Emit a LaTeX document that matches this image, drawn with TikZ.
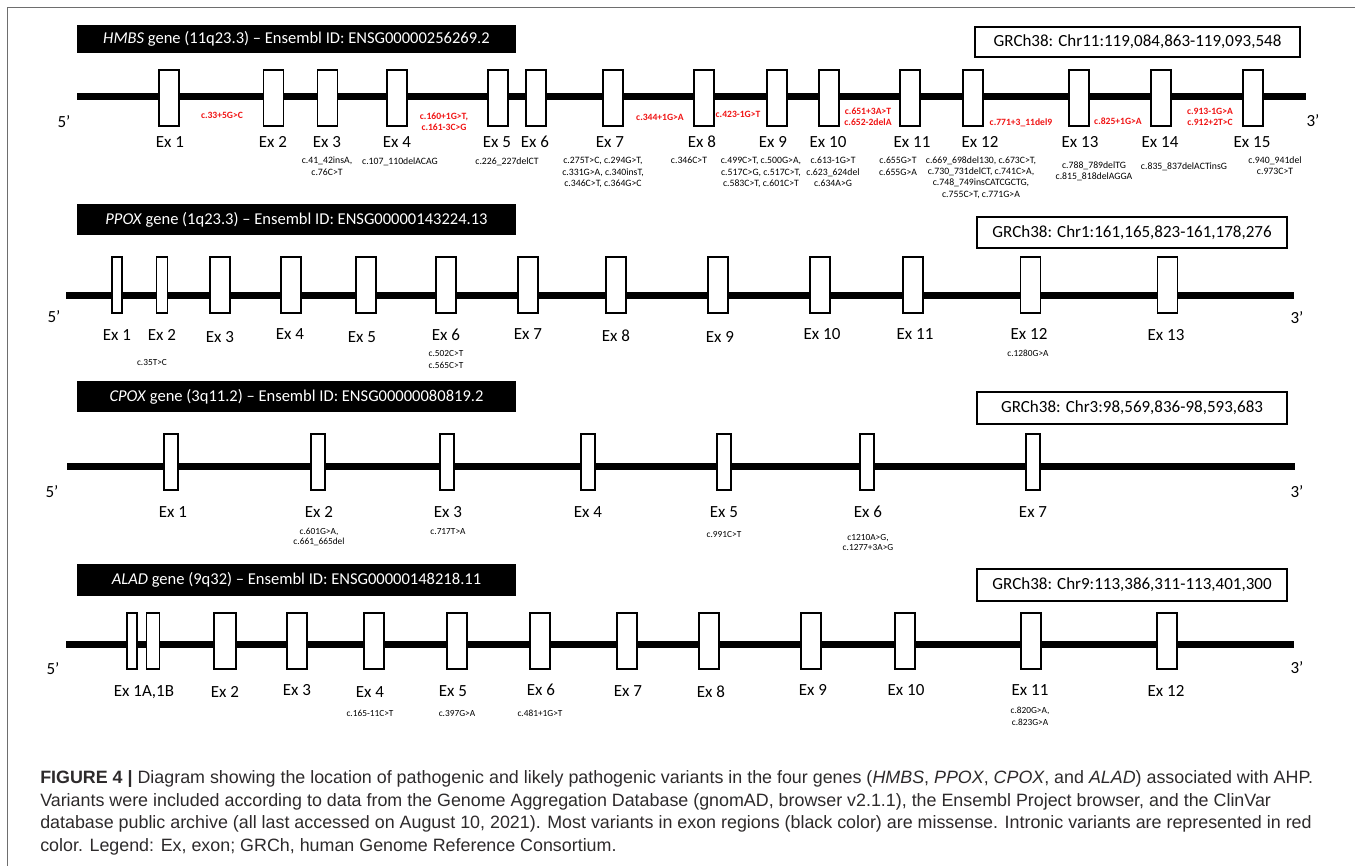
\documentclass[tikz,border=0pt]{standalone}
\usepackage{fontspec}
\setmainfont{Carlito}
\newfontfamily\capfont{Liberation Sans}
\newdimen\pxu \pxu=0.75pt
\definecolor{varred}{RGB}{240,20,20}
\definecolor{framegray}{RGB}{110,110,110}
\definecolor{captext}{RGB}{45,42,43}
\tikzset{
  gene/.style={line width=7\pxu},
  exon/.style={draw, fill=white, line width=1.2\pxu, minimum height=56\pxu, minimum width=20\pxu, inner sep=0pt},
  exlab/.style={font=\fontsize{12.75}{14}\selectfont, inner sep=0pt},
  primelab/.style={font=\fontsize{12.75}{14}\selectfont, inner sep=0pt},
  hdr/.style={fill=black, text=white, font=\fontsize{12.4}{14}\selectfont, inner sep=0pt, minimum width=439\pxu},
  grch/.style={draw, line width=1.2\pxu, fill=white, font=\fontsize{12.75}{14}\selectfont, inner sep=0pt},
  var/.style={font=\fontsize{7.3}{8.6}\selectfont, align=center, anchor=north, inner sep=0pt},
  varsm/.style={font=\fontsize{7}{9}\selectfont, align=center, anchor=north, inner sep=0pt},
  varc/.style={font=\fontsize{7}{7.5}\selectfont, align=center, anchor=north, inner sep=0pt},
  redvar/.style={font=\fontsize{7.2}{8.2}\selectfont\bfseries, text=varred, align=center, anchor=north, inner sep=0pt},
  capline/.style={font=\fontsize{13.4}{16}\selectfont\capfont, text=captext, anchor=west, inner sep=0pt},
  framestyle/.style={draw=framegray, line width=1\pxu},
}
\begin{document}
\begin{tikzpicture}[x=0.75pt, y=-0.75pt]
\useasboundingbox (0,0) rectangle (1355,866);
% frame
\coordinate (frBL) at (7,866);
\coordinate (frTL) at (7,8);
\coordinate (frTR) at (1355,8);
\draw[framestyle] (frBL) -- (frTL) -- (frTR);

% ================= HMBS =================
\node[hdr, minimum height=28\pxu] (hmbsHdr) at (296.5,39) {\textit{HMBS} gene (11q23.3) – Ensembl ID: ENSG00000256269.2};
\node[grch, minimum width=325\pxu, minimum height=30\pxu] (hmbsGr) at (1137.5,42) {GRCh38: Chr11:119,084,863-119,093,548};
\coordinate (hmbsL) at (77,96.5);
\coordinate (hmbsR) at (1306,96.5);
\draw[gene] (hmbsL) -- (hmbsR);
\foreach \x [count=\i] in {169,273.5,327.5,397,498,536,613,704,777,829,910,973,1079,1161,1253}
  \node[exon] (hmbs-ex\i) at (\x,98) {};
\foreach \x [count=\i] in {170,273,327,397,497,535,610,702,773,828,912,980,1080,1160,1252}
  \node[exlab] (hmbs-lab\i) at (\x,142) {Ex \i};
\node[primelab] (hmbs5) at (64,122) {5’};
\node[primelab] (hmbs3) at (1313,121) {3’};
% intronic (red)
\node[redvar] (hr1) at (222,112) {c.33+5G>C};
\node[redvar] (hr2) at (444,113) {c.160+1G>T,\\c.161-3C>G};
\node[redvar] (hr3) at (660,114) {c.344+1G>A};
\node[redvar] (hr4) at (738,111) {c.423-1G>T};
\node[redvar] (hr5) at (868,108) {c.651+3A>T\\c.652-2delA};
\node[redvar] (hr6) at (1021,118) {c.771+3\_11del9};
\node[redvar] (hr7) at (1118,118) {c.825+1G>A};
\node[redvar] (hr8) at (1210,108) {c.913-1G>A\\c.912+2T>C};
% exonic (black)
\node[var] (hv3) at (327,157) {c.41\_42insA,\\c.76C>T};
\node[var] (hv4) at (400,157) {c.107\_110delACAG};
\node[var] (hv5) at (507,157) {c.226\_227delCT};
\node[var] (hv7) at (603,157) {c.275T>C, c.294G>T,\\c.331G>A, c.340insT,\\c.346C>T, c.364G>C};
\node[var] (hv8) at (689,157) {c.346C>T};
\node[var] (hv9) at (761,157) {c.499C>T, c.500G>A,\\c.517C>G, c.517C>T,\\c.583C>T, c.601C>T};
\node[var] (hv10) at (833,157) {c.613-1G>T\\c.623\_624del\\c.634A>G};
\node[var] (hv11) at (898,157) {c.655G>T\\c.655G>A};
\node[var] (hv12) at (981,156) {c.669\_698del130, c.673C>T,\\c.730\_731delCT, c.741C>A,\\c.748\_749insCATCGCTG,\\c.755C>T, c.771G>A};
\node[var] (hv13) at (1094,161) {c.788\_789delTG\\c.815\_818delAGGA};
\node[var] (hv14) at (1184,162) {c.835\_837delACTinsG};
\node[var] (hv15) at (1275,156) {c.940\_941del\\c.973C>T};

% ================= PPOX =================
\node[hdr, minimum height=31\pxu] (ppoxHdr) at (296.5,219.5) {\textit{PPOX} gene (1q23.3) – Ensembl ID: ENSG00000143224.13};
\node[grch, minimum width=310\pxu, minimum height=31\pxu] (ppoxGr) at (1132,232.5) {GRCh38: Chr1:161,165,823-161,178,276};
\coordinate (ppoxL) at (66,295);
\coordinate (ppoxR) at (1294,295);
\draw[gene] (ppoxL) -- (ppoxR);
\node[exon, minimum width=10\pxu] (ppox-ex1) at (117,285) {};
\node[exon, minimum width=11\pxu] (ppox-ex2) at (162,285) {};
\foreach \x [count=\i from 3] in {220,291,366,446,528,616,718,820,913,1030.5,1167.5}
  \node[exon] (ppox-ex\i) at (\x,285) {};
\foreach \x/\y [count=\i] in {117/335,162/335,220/337,290/334,362/337,446/335,528/334,616/336,720/337,822/334,915/334,1029/334,1166/335}
  \node[exlab] (ppox-lab\i) at (\x,\y) {Ex \i};
\node[primelab] (ppox5) at (54,317) {5’};
\node[primelab] (ppox3) at (1297,318) {3’};
\node[varsm] (pv2) at (152,359) {c.35T>C};
\node[varsm] (pv6) at (446,350) {c.502C>T\\c.565C>T};
\node[varsm] (pv12) at (1028,350) {c.1280G>A};

% ================= CPOX =================
\node[hdr, minimum height=31\pxu] (cpoxHdr) at (296.5,396.5) {\textit{CPOX} gene (3q11.2) – Ensembl ID: ENSG00000080819.2};
\node[grch, minimum width=310\pxu, minimum height=32\pxu] (cpoxGr) at (1132,408) {GRCh38: Chr3:98,569,836-98,593,683};
\coordinate (cpoxL) at (67,466);
\coordinate (cpoxR) at (1295,466);
\draw[gene] (cpoxL) -- (cpoxR);
\foreach \x [count=\i] in {171,318,447,588,724,867,1033}
  \node[exon, minimum width=14\pxu] (cpox-ex\i) at (\x,462) {};
\foreach \x [count=\i] in {173,319,448,588,724,868,1033}
  \node[exlab] (cpox-lab\i) at (\x,512) {Ex \i};
\node[primelab] (cpox5) at (52,492) {5’};
\node[primelab] (cpox3) at (1297,492) {3’};
\node[varc] (cv2) at (319,528) {c.601G>A,\\c.661\_665del};
\node[varc] (cv3) at (448,528) {c.717T>A};
\node[varc] (cv5) at (724,531) {c.991C>T};
\node[varc] (cv6) at (868,534) {c1210A>G,\\c.1277+3A>G};

% ================= ALAD =================
\node[hdr, minimum height=32\pxu] (aladHdr) at (296.5,580) {\textit{ALAD} gene (9q32) – Ensembl ID: ENSG00000148218.11};
\node[grch, minimum width=310\pxu, minimum height=32\pxu] (aladGr) at (1132,585) {GRCh38: Chr9:113,386,311-113,401,300};
\coordinate (aladL) at (66,644);
\coordinate (aladR) at (1294,644);
\draw[gene] (aladL) -- (aladR);
\node[exon, minimum width=10\pxu] (alad-ex1a) at (132,641) {};
\node[exon, minimum width=13\pxu] (alad-ex1b) at (153,641) {};
\node[exon, minimum width=22\pxu] (alad-ex2) at (225,641) {};
\foreach \x [count=\i from 3] in {297,374,457,540,627,709,811,905,1031,1167}
  \node[exon] (alad-ex\i) at (\x,641) {};
\node[exlab] (alad-lab1) at (144,692) {Ex 1A,1B};
\foreach \x/\y [count=\i from 2] in {225/692,297/690,370/692,453/691,541/690,628/691,711/692,813/690,906/690,1030/690,1166/691}
  \node[exlab] (alad-lab\i) at (\x,\y) {Ex \i};
\node[primelab] (alad5) at (53,669) {5’};
\node[primelab] (alad3) at (1297,668) {3’};
\node[varsm] (av4) at (370,710) {c.165-11C>T};
\node[varsm] (av5) at (457,710) {c.397G>A};
\node[varsm] (av6) at (540,710) {c.481+1G>T};
\node[varsm] (av11) at (1030,707) {c.820G>A,\\c.823G>A};

% ================= caption =================
\node[capline] (cap1) at (40,779) {\textbf{FIGURE 4 |} Diagram showing the location of pathogenic and likely pathogenic variants in the four genes (\textit{HMBS}, \textit{PPOX}, \textit{CPOX}, and \textit{ALAD}) associated with AHP.};
\node[capline] (cap2) at (40,801.5) {Variants were included according to data from the Genome Aggregation Database (gnomAD, browser v2.1.1), the Ensembl Project browser, and the ClinVar};
\node[capline] (cap3) at (40,824) {database public archive (all last accessed on August 10, 2021). Most variants in exon regions (black color) are missense. Intronic variants are represented in red};
\node[capline] (cap4) at (40,846.5) {color. Legend: Ex, exon; GRCh, human Genome Reference Consortium.};
\end{tikzpicture}
\end{document}
